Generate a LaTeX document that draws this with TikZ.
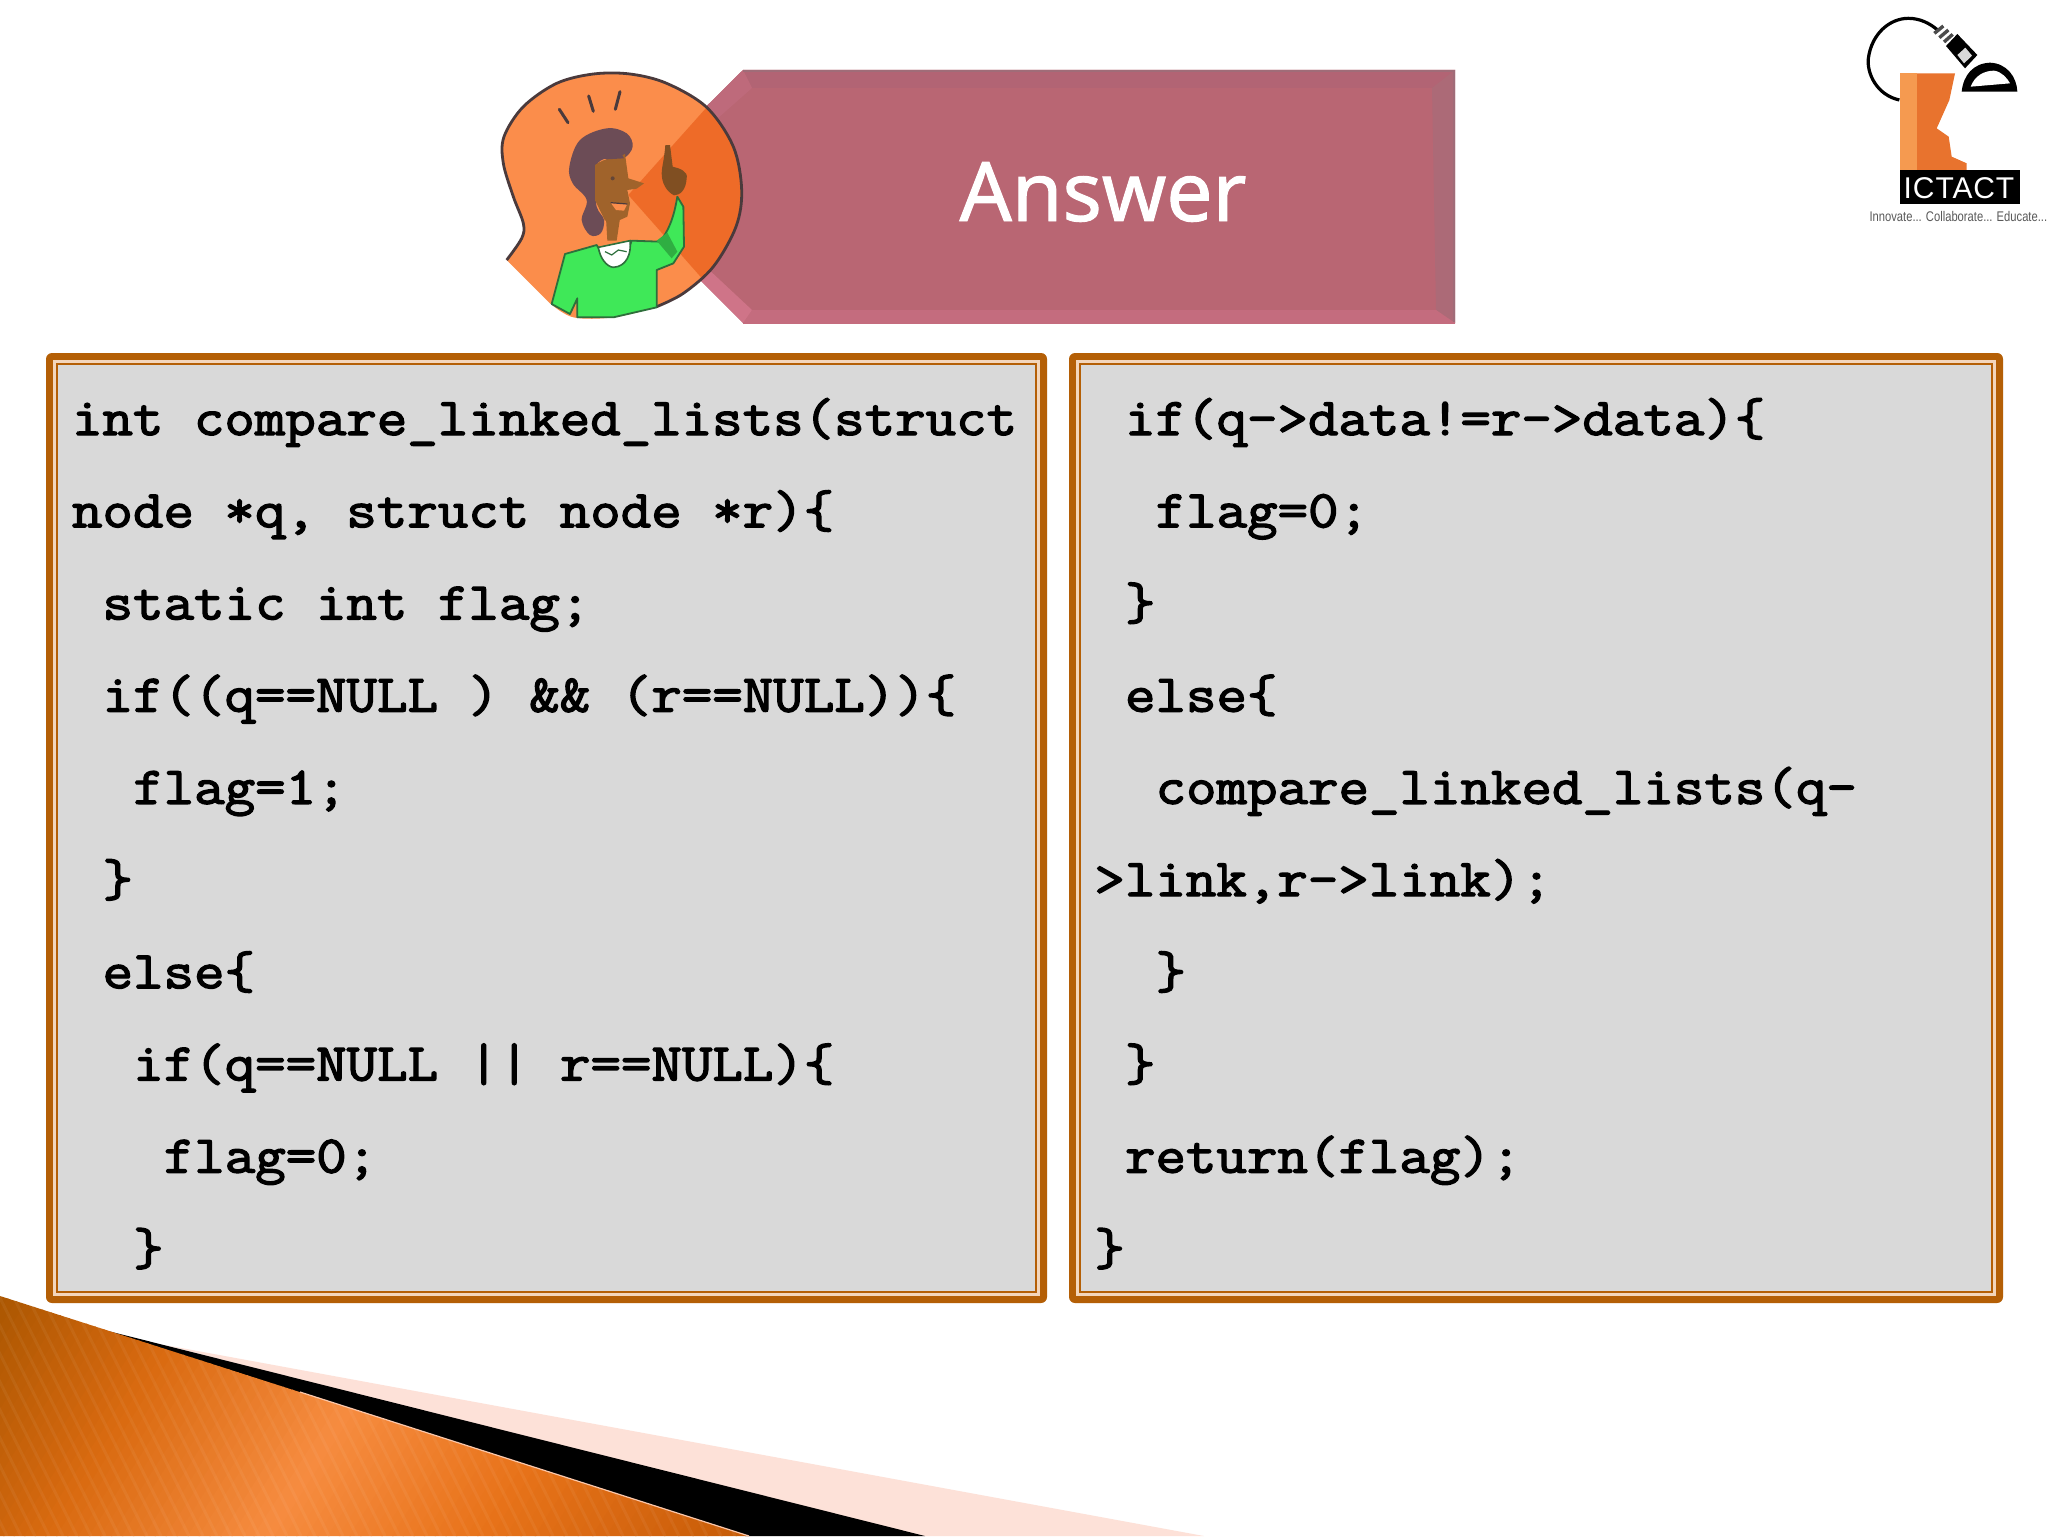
\documentclass[tikz,border=0pt]{standalone}
\usepackage{fontspec}
\usepackage{graphicx}
\newfontfamily\codefont[FakeBold=2.6,FakeStretch=1.117]{Latin Modern Mono}
\newfontfamily\titlefont[FakeBold=1.2]{Noto Sans}
\newfontfamily\logofont[LetterSpace=3]{Liberation Sans}
\newfontfamily\tagfont{Liberation Sans}
\definecolor{frameor}{HTML}{B45F06}
\definecolor{framepale}{HTML}{F3D6BC}
\definecolor{codegray}{HTML}{D9D9D9}
\definecolor{bannerc}{HTML}{B96673}
\definecolor{bevtop}{HTML}{B26474}
\definecolor{bevedge}{HTML}{A06C78}
\definecolor{bevright}{HTML}{AC6A77}
\definecolor{bevbot}{HTML}{C46C7E}
\definecolor{bevdiagb}{HTML}{CF7488}
\definecolor{bevdiagt}{HTML}{BE6A7B}
\definecolor{discor}{HTML}{FB8D4B}
\definecolor{discdk}{HTML}{EE6B28}
\definecolor{outl}{HTML}{4A3A3C}
\definecolor{sweater}{HTML}{3FE858}
\definecolor{sweaterdk}{HTML}{2E6F3C}
\definecolor{hairc}{HTML}{6C4C56}
\definecolor{skin}{HTML}{A0632B}
\definecolor{palew}{HTML}{FDE1D8}
\definecolor{logodk}{HTML}{E8732E}
\definecolor{logolt}{HTML}{F59A50}
\definecolor{wa}{HTML}{A85500}
\definecolor{wb}{HTML}{D96A10}
\definecolor{wc}{HTML}{F68C40}
\definecolor{wd}{HTML}{E8731A}
\definecolor{we}{HTML}{C45A06}
\tikzset{
  codeline/.style={anchor=base west,inner sep=0pt,outer sep=0pt,text=black,
    font=\codefont\fontsize{26.5}{31}\selectfont},
  titletext/.style={anchor=base,inner sep=0pt,text=white,font=\titlefont\fontsize{41}{50}\selectfont},
}
\begin{document}
\begin{tikzpicture}[x=0.5pt,y=-0.5pt]
\useasboundingbox (0,0) rectangle (2048,1536);
\fill[white] (0,0) rectangle (2048,1536);
% bottom wedges
\fill[palew] (165,1345) -- (1204,1536) -- (900,1536) -- cycle;
\fill[black] (104,1330) -- (925,1536) -- (745,1536) -- cycle;
\begin{scope}
\clip (0,1296) -- (749,1536) -- (0,1536) -- cycle;
\foreach \ua/\ub/\ca/\cb in {-130/81/wa/wb,81/300/wb/wc,300/513/wc/wd,513/800/wd/we}{
  \foreach \s in {0,...,19}{
    \pgfmathsetmacro{\uu}{\ua+(\ub-\ua)*\s/20}
    \pgfmathsetmacro{\vv}{\uu+(\ub-\ua)/20+1.5}
    \pgfmathsetmacro{\pct}{100*(\s+0.5)/20}
    \fill[\cb!\pct!\ca] ({\uu+121.6},1290) -- ({\vv+121.6},1290) -- ({\vv-35.8},1536) -- ({\uu-35.8},1536) -- cycle;
  }
}
\foreach \s in {0,...,60}{
  \draw[white,opacity=0.05,line width=1.5pt] ({-130+\s*14},1290) -- ({-130+\s*14+123},1536);
}
\end{scope}
\draw[palew!70!wc,line width=0.6pt] (300,1392) -- (749,1536);
% banner
\fill[bannerc] (743,70) -- (1455,70) -- (1455,323) -- (743,323) -- (616,196) -- cycle;
\fill[bevtop] (743,70) -- (1455,70) -- (1432,88) -- (752,88) -- cycle;
\fill[bevright] (1455,70) -- (1455,323) -- (1436,310) -- (1432,88) -- cycle;
\fill[bevbot] (743,323) -- (1455,323) -- (1436,310) -- (752,310) -- cycle;
\fill[bevdiagb] (743,323) -- (616,196) -- (630,196) -- (752,310) -- cycle;
\fill[bevdiagt] (743,70) -- (616,196) -- (630,196) -- (752,88) -- cycle;
\draw[bevedge,line width=1pt] (743,71) -- (1454,71) -- (1454,322);
\draw[bevbot,line width=0.6pt] (1455,323) -- (743,323);
\node[titletext] (answer) at (1103,221) {Answer};
% character disc
\begin{scope}[shift={(480,50)},x=0.16667pt,y=-0.16667pt]
\def\discline{plot[smooth,tension=0.55] coordinates {(80,630) (125,565) (130,520) (100,440) (70,340) (72,260) (130,170) (230,100) (340,72) (450,72) (560,100) (680,172) (760,290) (785,420) (768,530) (700,650) (610,730) (530,770) (400,802) (280,802) (210,760)}}
\fill[discor] \discline -- cycle;
\begin{scope}
\clip \discline -- cycle;
\fill[discdk] (445,435) -- (680,172) -- (850,300) -- (850,600) -- (672,692) -- cycle;
\end{scope}
\draw[outl,line width=1.4pt,line join=round] plot[smooth,tension=0.55] coordinates {(80,630) (125,565) (130,520) (100,440) (70,340) (72,260) (130,170) (230,100) (340,72) (450,72) (560,100) (680,172) (760,290) (785,420) (768,530) (700,650) (610,730) (530,770)};
% ticks
\draw[outl,line width=1.5pt,line cap=round] (238,178) -- (264,218) (326,138) -- (340,184) (420,125) -- (406,178);
% sweater
\fill[sweater,draw=sweaterdk,line width=0.9pt,line join=round]
  (215,762) -- (255,612) -- (350,585) -- (380,635) -- (430,640) -- (455,572) -- (540,575) .. controls (575,530) and (585,480) .. (592,440) -- (610,470) -- (612,590) -- (580,640) -- (530,660) -- (530,772) -- (400,802) -- (292,802) -- (292,745) -- (270,792) -- cycle;
\fill[sweater!75!black] (530,572) -- (562,548) -- (592,605) -- (575,625) -- cycle;
% collar
\fill[white,draw=sweaterdk,line width=0.8pt] (355,592) -- (450,572) .. controls (455,610) and (440,650) .. (400,652) .. controls (380,650) and (360,625) .. (355,592) -- cycle;
\draw[sweaterdk,line width=0.6pt] (375,605) -- (395,615) -- (415,600) -- (440,605);
% neck and face
\fill[skin] (378,505) -- (420,505) -- (410,572) -- (382,572) -- cycle;
\fill[hairc] plot[smooth cycle,tension=0.6] coordinates {(268,350) (300,270) (380,235) (440,250) (458,290) (430,325) (380,325) (350,345) (345,400) (350,470) (372,510) (362,550) (330,555) (305,510) (320,450) (278,400)};
\fill[skin] (345,345) .. controls (380,320) and (410,325) .. (435,312) -- (445,385) -- (492,400) -- (470,416) -- (442,420) -- (450,460) -- (442,500) -- (415,512) -- (375,512) -- (345,450) -- cycle;
\fill[discor] (392,458) -- (442,462) -- (432,482) -- (408,480) -- cycle;
\draw[outl,line width=0.6pt] (392,458) -- (442,462);
\fill[outl!70!skin] (398,385) circle[radius=6];
\fill[hairc] (360,320) -- (420,302) -- (432,325) -- (380,328) -- cycle;
% hand
\fill[skin!80!black,line join=round] (556,285) -- (570,285) -- (578,350) .. controls (600,355) and (625,365) .. (620,385) .. controls (618,420) and (600,436) .. (582,436) .. controls (560,425) and (545,400) .. (545,370) .. controls (545,350) and (552,335) .. (556,285) -- cycle;
\end{scope}
% logo
\begin{scope}[shift={(1840,0)},x=0.16667pt,y=-0.16667pt]
\draw[black,line width=1.6pt] (178,300) .. controls (110,285) and (80,220) .. (85,175) .. controls (95,100) and (150,55) .. (205,55) .. controls (240,55) and (270,70) .. (295,92);
\draw[black!70,line width=1.7pt] (283,100) -- (310,78) (298,113) -- (325,90) (312,126) -- (338,103);
\fill[black] (318,138) -- (352,102) -- (412,165) -- (375,205) -- cycle;
\fill[white!85!black] (352,165) -- (376,143) -- (396,167) -- (372,190) -- cycle;
\fill[black] (365,275) .. controls (370,225) and (400,190) .. (450,188) .. controls (500,190) and (530,230) .. (532,275) -- cycle;
\fill[white] (392,260) .. controls (405,225) and (435,212) .. (462,212) .. controls (485,215) and (502,235) .. (510,250) -- cycle;
\fill[logodk] (180,220) -- (345,220) -- (328,300) -- (290,385) -- (326,410) -- (335,470) -- (380,490) -- (380,510) -- (180,510) -- cycle;
\fill[logolt] (180,220) rectangle (230,510);
\fill[black] (180,510) rectangle (540,612);
\node[anchor=base,inner sep=0pt,text=white,font=\logofont\fontsize{15}{18}\selectfont] (ictact) at (357,595) {ICTACT};
\node[anchor=base,inner sep=0pt,text=black!65,font=\tagfont\fontsize{7}{8}\selectfont] (tagline) at (355,665) {\scalebox{0.8}[1]{Innovate... Collaborate... Educate...}};
\end{scope}
% frames
\fill[frameor,rounded corners=3pt] (46,353) rectangle (1047,1303);
\fill[framepale] (53,360) rectangle (1040,1296);
\fill[frameor] (56,363) rectangle (1037,1293);
\fill[codegray] (58,365) rectangle (1035,1291);
\fill[frameor,rounded corners=3pt] (1069,353) rectangle (2003,1303);
\fill[framepale] (1076,360) rectangle (1996,1296);
\fill[frameor] (1079,363) rectangle (1993,1293);
\fill[codegray] (1081,365) rectangle (1991,1291);
% code, left
\node[codeline] (l1) at (72,435) {int compare\_linked\_lists(struct};
\node[codeline] (l2) at (72,527.2) {node *q, struct node *r)\{};
\node[codeline] (l3) at (102.6,619.4) {static int flag;};
\node[codeline] (l4) at (102.6,711.6) {if((q==NULL ) \&\& (r==NULL))\{};
\node[codeline] (l5) at (133.2,803.8) {flag=1;};
\node[codeline] (l6) at (102.6,896) {\}};
\node[codeline] (l7) at (102.6,988.2) {else\{};
\node[codeline] (l8) at (133.2,1080.4) {if(q==NULL || r==NULL)\{};
\node[codeline] (l9) at (163.8,1172.6) {flag=0;};
\node[codeline] (l10) at (133.2,1264.8) {\}};
% code, right
\node[codeline] (r1) at (1125,435) {if(q->data!=r->data)\{};
\node[codeline] (r2) at (1155.6,527.2) {flag=0;};
\node[codeline] (r3) at (1125,619.4) {\}};
\node[codeline] (r4) at (1125,711.6) {else\{};
\node[codeline] (r5) at (1155.6,803.8) {compare\_linked\_lists(q-};
\node[codeline] (r6) at (1094.4,896) {>link,r->link);};
\node[codeline] (r7) at (1155.6,988.2) {\}};
\node[codeline] (r8) at (1125,1080.4) {\}};
\node[codeline] (r9) at (1125,1172.6) {return(flag);};
\node[codeline] (r10) at (1094.4,1264.8) {\}};
\end{tikzpicture}
\end{document}
